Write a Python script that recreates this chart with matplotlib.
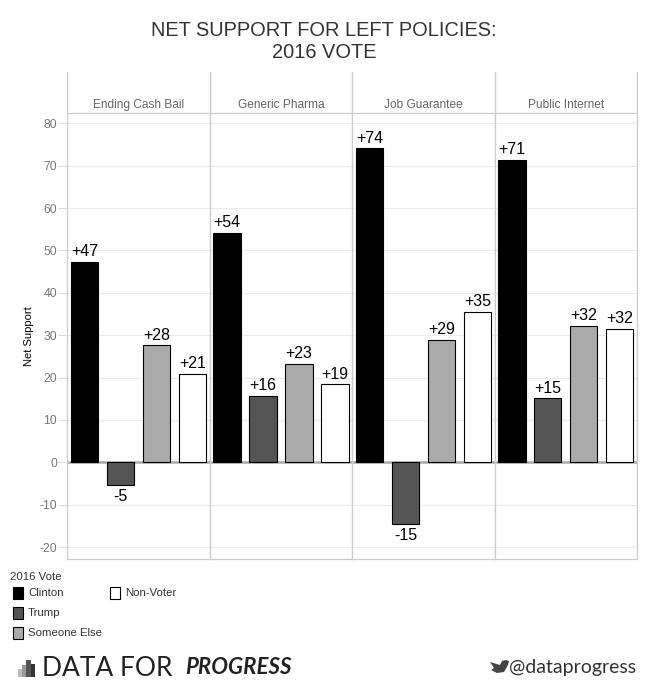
import matplotlib
matplotlib.use("Agg")
import matplotlib.pyplot as plt
from matplotlib.patches import Rectangle, Polygon
import numpy as np

policies = ["Ending Cash Bail", "Generic Pharma", "Job Guarantee", "Public Internet"]
groups = ["Clinton", "Trump", "Someone Else", "Non-Voter"]
clinton = [47.2, 54.1, 74.1, 71.3]
trump = [-5.4, 15.6, -14.6, 15.1]
someone_else = [27.6, 23.2, 28.8, 32.1]
non_voter = [20.8, 18.4, 35.4, 31.4]
labels = [["+47", "-5", "+28", "+21"],
          ["+54", "+16", "+23", "+19"],
          ["+74", "-15", "+29", "+35"],
          ["+71", "+15", "+32", "+32"]]
yticks = [-20, -10, 0, 10, 20, 30, 40, 50, 60, 70, 80]

colors = ["#000000", "#555555", "#aaaaaa", "#ffffff"]
grid_c = "#ebebeb"
border_c = "#cccccc"

plt.rcParams['font.family'] = ['Liberation Sans', 'DejaVu Sans']
plt.rcParams['axes.unicode_minus'] = False

W, H = 649, 692
fig = plt.figure(figsize=(W / 100, H / 100), dpi=100)

def fx(px):
    return px / W

def fy(py):
    return 1 - py / H

left, right = 67.3, 637.0
top, bottom = 112.7, 559.3
strip_top = 72.0
pw = (right - left) / 4

values = np.array([clinton, trump, someone_else, non_voter]).T  # panel x group
x = np.arange(len(groups))

for i, pol in enumerate(policies):
    ax = fig.add_axes([fx(left + i * pw), fy(bottom), fx(pw), (bottom - top) / H])
    for y in yticks:
        ax.axhline(y, color=grid_c, lw=0.8, zorder=0)
    ax.axhline(0, color="#aaaaaa", lw=1.8, zorder=1)
    bars = ax.bar(x, values[i], width=0.76, color=colors, edgecolor="black",
                  linewidth=0.8, zorder=2)
    for b, v, lab in zip(bars, values[i], labels[i]):
        if v >= 0:
            ax.annotate(lab, (b.get_x() + b.get_width() / 2, v), xytext=(0, 2),
                        textcoords="offset points", ha="center", va="bottom",
                        fontsize=11.5)
        else:
            ax.annotate(lab, (b.get_x() + b.get_width() / 2, v), xytext=(0, -3),
                        textcoords="offset points", ha="center", va="top",
                        fontsize=11.5)
    ax.set_xlim(-0.48, 3.48)
    ax.set_ylim(-22.9, 82.5)
    ax.set_xticks([])
    ax.set_yticks(yticks)
    for s in ax.spines.values():
        s.set_color(border_c)
        s.set_linewidth(0.9)
    if i == 0:
        ax.tick_params(axis="y", length=6.5, color="#dddddd", labelcolor="#777777",
                       labelsize=8.8, pad=1)
        ax.set_ylabel("Net Support", fontsize=8, labelpad=4)
    else:
        ax.tick_params(axis="y", length=0, labelleft=False)

    sx = fig.add_axes([fx(left + i * pw), fy(top), fx(pw), (top - strip_top) / H])
    sx.set_xticks([])
    sx.set_yticks([])
    sx.patch.set_alpha(0)
    for k in ["top", "bottom"]:
        sx.spines[k].set_visible(False)
    for k in ["left", "right"]:
        sx.spines[k].set_color(border_c)
        sx.spines[k].set_linewidth(0.9)
    sx.text(0.5, 0.2, pol, transform=sx.transAxes, ha="center", va="center",
            fontsize=8.6, color="#666666")

fig.text(fx(324), fy(41), "NET SUPPORT FOR LEFT POLICIES:\n2016 VOTE", ha="center",
         va="center", fontsize=14.4, color="#333333", linespacing=1.2)

# legend
fig.text(fx(10), fy(577), "2016 Vote", ha="left", va="center", fontsize=8.2, color="#333333")
legend_pos = [(13, 593), (13, 613), (13, 633), (110, 593)]
for (lx, ly), g, c in zip(legend_pos, groups, colors):
    fig.add_artist(Rectangle((fx(lx), fy(ly + 6)), fx(10), 12 / H, facecolor=c,
                             edgecolor="black", linewidth=0.8, transform=fig.transFigure))
    fig.text(fx(lx + 15), fy(ly), g, ha="left", va="center", fontsize=8.2, color="#333333")

# footer logo
logo_bars = [(18, 8, "#bbbbbb"), (22, 12, "#999999"), (26.5, 17, "#555555"), (31, 13, "#333333")]
for bx, bh, bc in logo_bars:
    fig.add_artist(Rectangle((fx(bx), fy(677)), fx(4.3), bh / H, facecolor=bc,
                             edgecolor="none", transform=fig.transFigure))
fig.text(fx(42), fy(668), "DATA FOR", ha="left", va="center", fontsize=19,
         fontfamily="Lato", color="#222222")
fig.text(fx(292), fy(668), "PROGRESS", ha="right", va="center", fontsize=16,
         fontfamily="Lato", fontweight="bold", fontstyle="italic", color="#222222")

# bird
bird = Polygon([(fx(490), fy(662)), (fx(494), fy(668)), (fx(491), fy(670)),
                (fx(497), fy(673)), (fx(504), fy(672)), (fx(508), fy(665)),
                (fx(509), fy(661)), (fx(506), fy(660)), (fx(502), fy(661)),
                (fx(500), fy(665))], closed=True, facecolor="#444444",
               edgecolor="none", transform=fig.transFigure)
fig.add_artist(bird)
fig.text(fx(509), fy(668), "@dataprogress", ha="left", va="center", fontsize=14,
         fontfamily="Lato", color="#333333")

fig.savefig("out.png", dpi=100)
